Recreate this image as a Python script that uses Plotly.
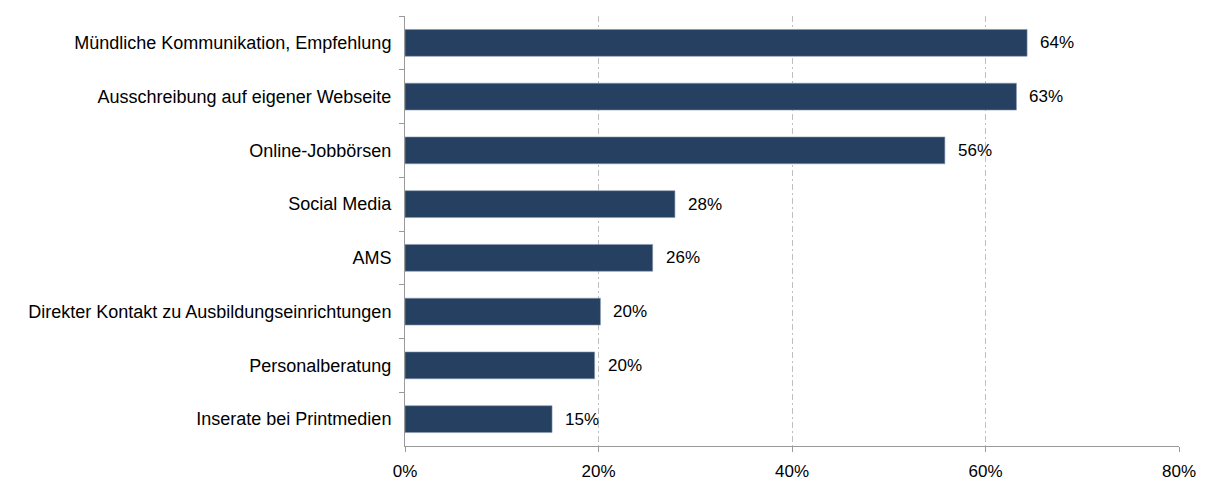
import plotly.graph_objects as go

categories = [
    "Mündliche Kommunikation, Empfehlung",
    "Ausschreibung auf eigener Webseite",
    "Online-Jobbörsen",
    "Social Media",
    "AMS",
    "Direkter Kontakt zu Ausbildungseinrichtungen",
    "Personalberatung",
    "Inserate bei Printmedien",
]
values = [64.3, 63.2, 55.8, 27.9, 25.6, 20.2, 19.6, 15.2]
labels = ["64%", "63%", "56%", "28%", "26%", "20%", "20%", "15%"]
tick_vals = [0, 20, 40, 60, 80]
tick_text = ["0%", "20%", "40%", "60%", "80%"]

font = "Liberation Sans, Arial, sans-serif"
bar_color = "#264061"

fig = go.Figure()
fig.add_trace(go.Bar(
    y=categories, x=values, orientation="h",
    marker=dict(color=bar_color, line=dict(color="#8a9bb3", width=0.6)),
    width=0.5, hoverinfo="skip",
))
for c, v, t in zip(categories, values, labels):
    fig.add_annotation(x=v, y=c, text=t, showarrow=False, xanchor="left",
                       xshift=11, font=dict(family=font, size=17, color="#000000"))

fig.update_layout(
    width=1216, height=493,
    margin=dict(l=397, r=45, t=8, b=55, autoexpand=False),
    plot_bgcolor="white", paper_bgcolor="white",
    showlegend=False,
    font=dict(family=font, size=17, color="#000000"),
)
fig.update_xaxes(
    range=[0, 80], tickvals=tick_vals, ticktext=tick_text,
    showgrid=True, gridcolor="#c0c0c0", griddash="6px,3px,2px,3px", gridwidth=1,
    showline=True, linecolor="#9a9a9a", linewidth=1,
    ticks="outside", ticklen=5, tickcolor="#9a9a9a",
    zeroline=False, fixedrange=True, automargin=False,
    tickfont=dict(size=17), ticklabelstandoff=5,
)
fig.update_yaxes(
    categoryorder="array", categoryarray=categories, autorange="reversed",
    showline=True, linecolor="#9a9a9a", linewidth=1,
    ticks="outside", ticklen=5, tickcolor="#9a9a9a", tickson="boundaries",
    ticklabelstandoff=9, showgrid=False, fixedrange=True, automargin=False,
    tickfont=dict(size=18),
)
fig.write_html("out.html")
